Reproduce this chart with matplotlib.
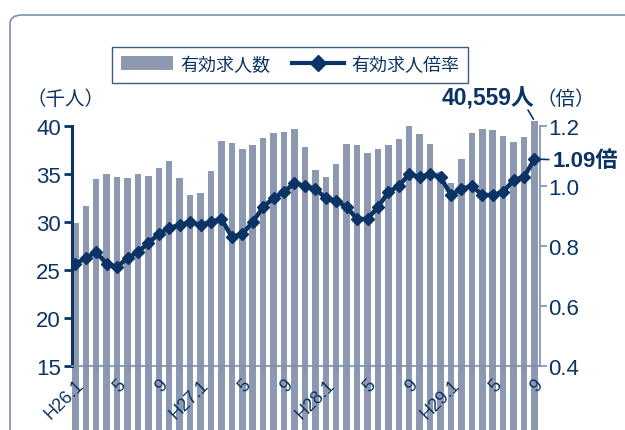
import numpy as np
import matplotlib
matplotlib.use('Agg')
import matplotlib.pyplot as plt
from matplotlib.patches import Patch, FancyBboxPatch
from matplotlib.lines import Line2D

plt.rcParams['font.family'] = ['Liberation Sans', 'Noto Sans CJK JP', 'DejaVu Sans']

# 月 (H26.1 - H29.9)
years = ['H26', 'H27', 'H28', 'H29']
months = [f'{y}.{m}' for y in years for m in range(1, 13)][:45]

# 有効求人数 (千人)
jobs = [29.9, 31.7, 34.5, 35.0, 34.7, 34.6, 35.0, 34.8, 35.6, 36.4, 34.6, 32.8,
        33.0, 35.3, 38.4, 38.2, 37.6, 38.0, 38.8, 39.3, 39.4, 39.7, 37.8, 35.4,
        34.7, 36.0, 38.1, 38.0, 37.2, 37.6, 38.0, 38.6, 40.0, 39.2, 38.1, 35.2,
        34.1, 36.6, 39.3, 39.7, 39.6, 39.0, 38.3, 38.9, 40.559]

# 有効求人倍率 (倍)
ratio = [0.74, 0.76, 0.78, 0.74, 0.73, 0.76, 0.78, 0.81, 0.84, 0.86, 0.87, 0.88,
         0.87, 0.88, 0.89, 0.83, 0.84, 0.88, 0.93, 0.96, 0.98, 1.01, 1.00, 0.99,
         0.96, 0.95, 0.93, 0.89, 0.89, 0.93, 0.98, 1.00, 1.04, 1.03, 1.04, 1.03,
         0.97, 0.99, 1.00, 0.97, 0.97, 0.98, 1.02, 1.03, 1.09]

navy = '#0b3366'
barc = '#8c99b0'
steel = '#7d90ad'

x = np.arange(1, len(jobs) + 1)
xlabels = [m if m.endswith('.1') else m.split('.')[1] for m in months]
xlabels = [l if (l.startswith('H') or l in ('5', '9')) else '' for l in xlabels]

fig = plt.figure(figsize=(6.25, 4.31), dpi=100)
W, H = 625, 431

# 外枠
frame = FancyBboxPatch((10 / W, 1 - 16 / H - 1.2), 1.2, 1.2,
                       boxstyle='round,pad=0,rounding_size=0.02',
                       transform=fig.transFigure, fill=False,
                       edgecolor=steel, linewidth=1.2, clip_on=False)
fig.patches.append(frame)

ax = fig.add_axes([72 / W, 1 - 367 / H, 468 / W, 240 / H])
ax.bar(x, jobs, width=0.62, color=barc, zorder=1, clip_on=False)
ax.set_ylim(15, 40)
ax.set_xlim(0.68, 45.53)
ax.set_yticks([15, 20, 25, 30, 35, 40])
ax.set_xticks(x)
ax.set_xticklabels(xlabels, fontsize=13, color=navy)
plt.setp(ax.get_xticklabels(), rotation=45, ha='right', rotation_mode='anchor')
ax.tick_params(axis='x', length=4, width=1, color=steel, pad=3)
ax.tick_params(axis='y', length=6, width=2, color=navy, labelsize=16,
               labelcolor=navy, pad=2)
ax.spines['top'].set_visible(False)
ax.spines['right'].set_visible(False)
ax.spines['left'].set_color(navy)
ax.spines['left'].set_linewidth(2.2)
ax.spines['bottom'].set_color(steel)
ax.spines['bottom'].set_linewidth(1.2)

ax2 = ax.twinx()
ax2.plot(x, ratio, color=navy, linewidth=3.2, marker='D', markersize=6, zorder=3)
ax2.set_ylim(0.4, 1.2)
ax2.set_yticks([0.4, 0.6, 0.8, 1.0, 1.2])
ax2.set_yticklabels(['0.4', '0.6', '0.8', '1.0', '1.2'])
ax2.tick_params(axis='y', length=5, width=1.2, color=steel, labelsize=16,
                labelcolor=navy, pad=1)
for s in ['top', 'left', 'bottom']:
    ax2.spines[s].set_visible(False)
ax2.spines['right'].set_color(steel)
ax2.spines['right'].set_linewidth(1.2)

# 凡例
handles = [Patch(facecolor=barc, edgecolor='none'),
           Line2D([], [], color=navy, linewidth=3, marker='D', markersize=8)]
leg = fig.legend(handles, ['有効求人数', '有効求人倍率'], ncol=2, loc='center',
                 bbox_to_anchor=(290 / W, 1 - 66 / H), fontsize=13,
                 frameon=True, fancybox=False, handlelength=2.9,
                 handleheight=0.8, columnspacing=1.2, handletextpad=0.4,
                 borderpad=0.5)
leg.get_frame().set_edgecolor(navy)
leg.get_frame().set_linewidth(1.0)
for t in leg.get_texts():
    t.set_color(navy)

fig.text(26 / W, 1 - 100 / H, '（千人）', fontsize=14, color=navy,
         ha='left', va='center')
fig.text(536 / W, 1 - 100 / H, '（倍）', fontsize=14, color=navy,
         ha='left', va='center')

# 最新値の注記
fig.text(534 / W, 1 - 99 / H, f'{jobs[-1] * 1000:,.0f}人', fontsize=16.5,
         fontweight='bold', color=navy, ha='right', va='center')
ax.annotate('', xy=(x[-1] - 0.1, jobs[-1] + 0.15),
            xytext=(528, H - 111), textcoords='figure pixels',
            arrowprops=dict(arrowstyle='-', color=navy, lw=1.2,
                            shrinkA=0, shrinkB=0),
            annotation_clip=False)
ax2.annotate(f'{ratio[-1]:.2f}倍', xy=(x[-1], ratio[-1]),
             xytext=(553, H - 162), textcoords='figure pixels',
             fontsize=16, fontweight='bold', color=navy, ha='left', va='center',
             arrowprops=dict(arrowstyle='-', color=navy, lw=1.2,
                             shrinkA=1, shrinkB=3),
             annotation_clip=False)

fig.savefig('out.png', dpi=100)
